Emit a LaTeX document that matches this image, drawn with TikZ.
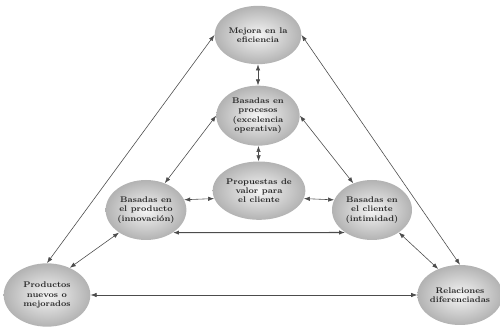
\documentclass[tikz,border=0pt]{standalone}
\usetikzlibrary{shapes.geometric,arrows.meta}

\tikzset{
  bola/.style={ellipse, shading=radial, inner color=gray!8, outer color=gray!60,
    text=black!85, font=\scriptsize\bfseries, align=center, inner sep=0pt,
    minimum width=2.5cm, minimum height=1.8cm},
  flecha/.style={{Latex[length=1.8mm,width=1.3mm]}-{Latex[length=1.8mm,width=1.3mm]},
    draw=black!70, line width=0.5pt}
}

\begin{document}
\begin{tikzpicture}
    \useasboundingbox (0,0) rectangle (15,9.87);

    % Vertex nodes
    \node[bola, minimum width=2.6cm, minimum height=1.75cm] (mejora) at (7.74, 8.82) {Mejora en la\\eficiencia};
    \node[bola, minimum width=2.6cm, minimum height=1.9cm] (productos) at (1.41, 1.02) {Productos\\nuevos o\\mejorados};
    \node[bola, minimum width=2.3cm] (relaciones) at (13.8, 1.02) {Relaciones\\diferenciadas};

    % Inner nodes
    \node[bola, minimum height=1.8cm] (procesos) at (7.74, 6.4) {Basadas en\\procesos\\(excelencia\\operativa)};
    \node[bola, minimum height=1.75cm] (propuestas) at (7.77, 4.15) {Propuestas de\\valor para\\el cliente};
    \node[bola, minimum width=2.4cm] (producto) at (4.38, 3.57) {Basadas en\\el producto\\(innovaci\'on)};
    \node[bola, minimum width=2.4cm] (cliente) at (11.16, 3.57) {Basadas en\\el cliente\\(intimidad)};

    % Outer triangle
    \draw[flecha] (mejora.west) -- (productos.north);
    \draw[flecha] (mejora.east) -- (relaciones.north);
    \draw[flecha] (productos.east) -- (relaciones.west);

    % Center
    \draw[flecha] (mejora) -- (procesos);
    \draw[flecha] (procesos) -- (propuestas);
    \draw[flecha] (procesos.west) -- (producto.55);
    \draw[flecha] (procesos.east) -- (cliente.125);
    \draw[flecha] (propuestas.190) -- (producto.15);
    \draw[flecha] (propuestas.350) -- (cliente.165);
    \draw[flecha, line width=0.9pt] (producto.-40) -- (cliente.220);
    \draw[flecha] (producto.220) -- (productos.50);
    \draw[flecha] (cliente.-40) -- (relaciones.130);
\end{tikzpicture}
\end{document}
